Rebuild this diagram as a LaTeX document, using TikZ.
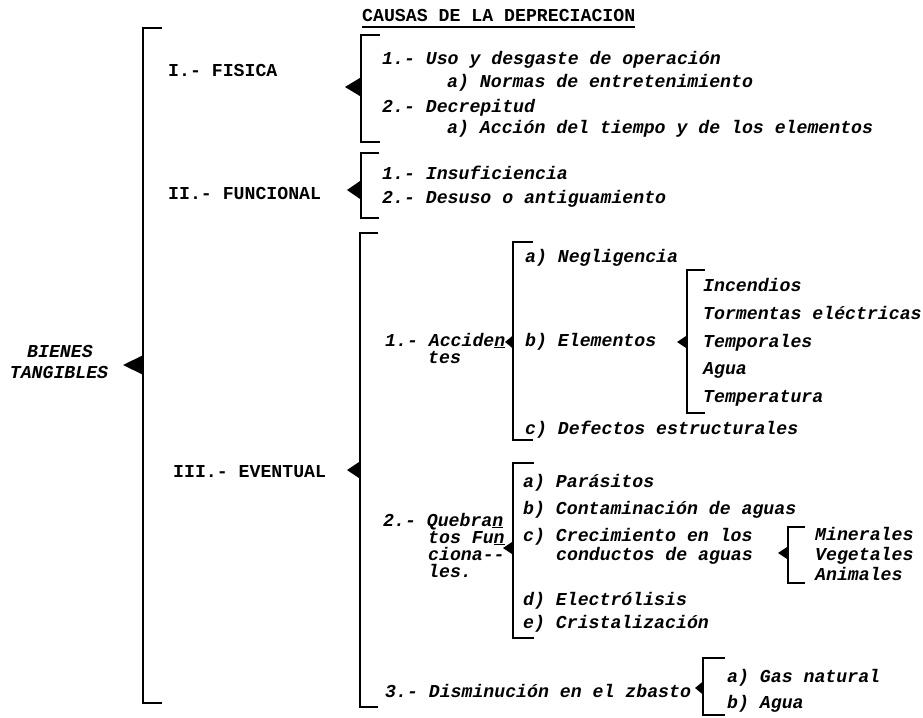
\documentclass[tikz,border=0pt]{standalone}
\usepackage{fontspec}
\newfontfamily\twf{Liberation Mono}
\newcommand\mybracket[8]{%
  \coordinate (#1t) at (#2+#5,#3);
  \coordinate (#1b) at (#2+#5,#4);
  \coordinate (#1a) at (#2-#7,#6);
  \draw[brk] (#1t) -| (#2,#4) -- (#1b);
  \fill[black] (#1a) -- (#2+0.5,#6-#8) -- (#2+0.5,#6+#8) -- cycle;
}
\begin{document}
\begin{tikzpicture}[x=1pt,y=-1pt,
  brk/.style={line width=2.3pt,line join=miter,line cap=butt},
  lbl/.style={anchor=base west,inner sep=0pt,font=\twf\fontsize{18.2}{20}\selectfont\bfseries\itshape},
  caps/.style={anchor=base west,inner sep=0pt,font=\twf\fontsize{18.2}{20}\selectfont\bfseries},
  root/.style={anchor=base,inner sep=0pt,font=\twf\fontsize{18.2}{20}\selectfont\bfseries\itshape}]
\useasboundingbox (0,0) rectangle (923,717);
\fill[white] (0,0) rectangle (923,717);

% title
\node[caps] (title) at (362,22) {CAUSAS DE LA DEPRECIACION};
\draw[line width=1.3pt] (title.base west)++(0,5) coordinate (ul1) -- ([yshift=-5pt]title.base east);

% root
\node[root] (bienes) at (60,357) {BIENES};
\node[root] (tang) at (59,378) {TANGIBLES};
\mybracket{main}{143}{28}{703}{19}{365}{20}{10}

% I FISICA
\node[caps] (fis) at (168,77) {I.- FISICA};
\mybracket{fisb}{361}{35}{142}{19}{87}{16}{10}
\node[lbl] (f1) at (382,65) {1.- Uso y desgaste de operación};
\node[lbl] (f1a) at (447,88) {a) Normas de entretenimiento};
\node[lbl] (f2) at (382,112) {2.- Decrepitud};
\node[lbl] (f2a) at (447,133) {a) Acción del tiempo y de los elementos};

% II FUNCIONAL
\node[caps] (fun) at (168,199) {II.- FUNCIONAL};
\mybracket{funb}{361}{153}{218}{18}{190}{14}{10}
\node[lbl] (u1) at (382,179) {1.- Insuficiencia};
\node[lbl] (u2) at (382,203) {2.- Desuso o antiguamiento};

% III EVENTUAL
\node[caps] (eve) at (173,477) {III.- EVENTUAL};
\mybracket{eveb}{360}{233}{707}{18}{470}{13}{9}

% 1 Accidentes
\node[lbl] (acc) at (385,346) {1.- Accide\underline{n}};
\node[lbl] (acc2) at (428,363) {tes};
\mybracket{accb}{513}{242}{440}{20}{342}{8}{7}
\node[lbl] (neg) at (525,262) {a) Negligencia};
\node[lbl] (ele) at (525,346) {b) Elementos};
\node[lbl] (def) at (525,434) {c) Defectos estructurales};
\mybracket{eleb}{687}{270}{413}{18}{342}{10}{7}
\node[lbl] (inc) at (703,291) {Incendios};
\node[lbl] (tor) at (703,319) {Tormentas eléctricas};
\node[lbl] (tem) at (703,347) {Temporales};
\node[lbl] (agu) at (703,374) {Agua};
\node[lbl] (tmp) at (703,402) {Temperatura};

% 2 Quebrantos
\node[lbl] (que) at (383,526) {2.- Quebra\underline{n}};
\node[lbl] (que2) at (428,543) {tos Fu\underline{n}};
\node[lbl] (que3) at (428,560) {ciona--};
\node[lbl] (que4) at (428,577) {les.};
\mybracket{queb}{513}{463}{638}{21}{548}{10}{7}
\node[lbl] (par) at (523,487) {a) Parásitos};
\node[lbl] (con) at (523,514) {b) Contaminación de aguas};
\node[lbl] (cre) at (523,541) {c) Crecimiento en los};
\node[lbl] (cre2) at (556,560) {conductos de aguas};
\node[lbl] (elc) at (523,605) {d) Electrólisis};
\node[lbl] (cri) at (523,628) {e) Cristalización};
\mybracket{minb}{788}{527}{583}{17}{553}{10}{7}
\node[lbl] (min) at (815,540) {Minerales};
\node[lbl] (veg) at (815,560) {Vegetales};
\node[lbl] (ani) at (815,580) {Animales};

% 3 Disminucion
\node[lbl] (dis) at (385,697) {3.- Disminución en el zbasto};
\mybracket{gasb}{703}{658}{715}{22}{688}{8}{7}
\node[lbl] (gas) at (727,682) {a) Gas natural};
\node[lbl] (agb) at (727,708) {b) Agua};
\end{tikzpicture}
\end{document}
